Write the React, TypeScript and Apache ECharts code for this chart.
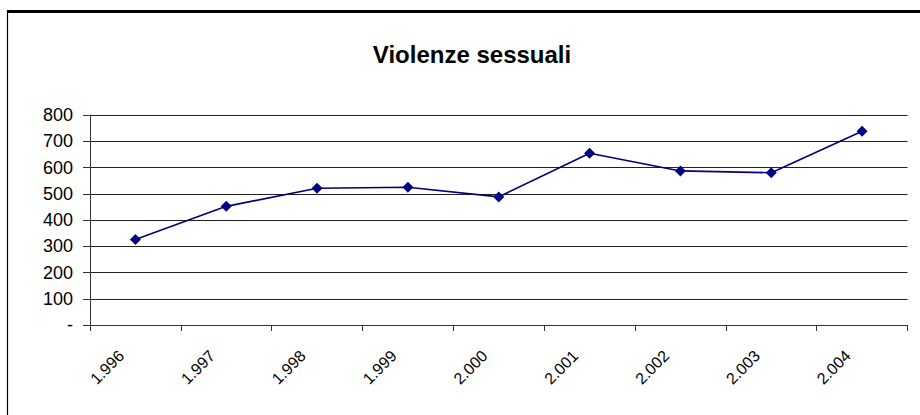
import React, { useEffect, useRef } from "react";
import * as echarts from "echarts";

const categories = ["1.996", "1.997", "1.998", "1.999", "2.000", "2.001", "2.002", "2.003", "2.004"];
const violenzeSessuali = [326, 452, 521, 525, 488, 654, 587, 580, 738];
const yTicks = { min: 0, max: 800, interval: 100 };
const titleText = "Violenze sessuali";

export default function App() {
  const ref = useRef<HTMLDivElement>(null);
  useEffect(() => {
    if (!ref.current) return;
    const chart = echarts.init(ref.current, null, { renderer: "svg" });
    const font = "'Liberation Sans', Arial, sans-serif";
    chart.setOption({
      animation: false,
      backgroundColor: "#ffffff",
      title: {
        text: titleText,
        left: 467,
        top: 37,
        textAlign: "center",
        textStyle: { fontFamily: font, fontSize: 24, fontWeight: "bold", color: "#000" },
      },
      grid: { left: 90, right: 12.5, top: 115, bottom: 90, containLabel: false },
      xAxis: {
        type: "category",
        data: categories,
        boundaryGap: true,
        axisLine: { show: true, lineStyle: { color: "#333", width: 1 } },
        axisTick: { show: true, length: 6, inside: false, lineStyle: { color: "#333" } },
        axisLabel: {
          rotate: 45,
          margin: 14,
          padding: [0, 20, 0, 0],
          fontFamily: font,
          fontSize: 16,
          color: "#000",
        },
        splitLine: { show: false },
      },
      yAxis: {
        type: "value",
        min: yTicks.min,
        max: yTicks.max,
        interval: yTicks.interval,
        axisLine: { show: true, lineStyle: { color: "#333", width: 1 } },
        axisTick: { show: true, length: 7, inside: false, lineStyle: { color: "#333" } },
        axisLabel: {
          margin: 17,
          fontFamily: font,
          fontSize: 18,
          color: "#000",
          formatter: (v: number) => (v === 0 ? "-" : String(v)),
        },
        splitLine: { show: true, lineStyle: { color: "#222", width: 1 } },
      },
      series: [
        {
          name: titleText,
          type: "line",
          data: violenzeSessuali,
          symbol: "diamond",
          symbolSize: 11,
          showSymbol: true,
          lineStyle: { color: "#000080", width: 1.6 },
          itemStyle: { color: "#000080", borderWidth: 0 },
        },
      ],
      graphic: [
        {
          type: "line",
          shape: { x1: 7, y1: 11.5, x2: 920, y2: 11.5 },
          style: { stroke: "#000", lineWidth: 3 },
          silent: true,
        },
        {
          type: "line",
          shape: { x1: 7.5, y1: 10, x2: 7.5, y2: 415 },
          style: { stroke: "#000", lineWidth: 1.2 },
          silent: true,
        },
      ],
    });
    return () => chart.dispose();
  }, []);
  return (
    <div
      ref={ref}
      style={{ position: "absolute", left: 0, top: 0, width: 920, height: 415, background: "#fff" }}
    />
  );
}
